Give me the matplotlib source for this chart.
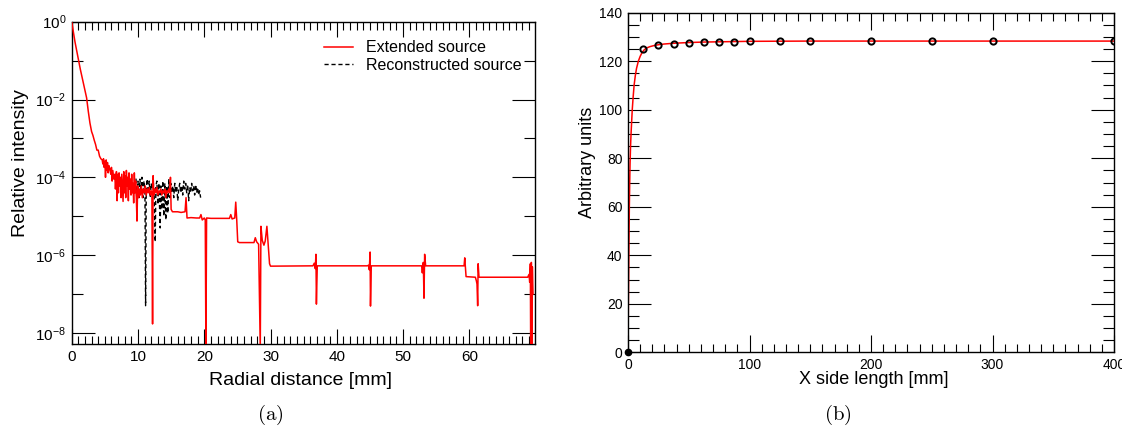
import matplotlib
matplotlib.use("Agg")
import matplotlib.pyplot as plt
from matplotlib.ticker import FixedLocator, FixedFormatter, MultipleLocator

plt.rcParams['font.family'] = ['Liberation Sans', 'DejaVu Sans']
plt.rcParams['mathtext.fontset'] = 'custom'
plt.rcParams['mathtext.rm'] = 'Liberation Sans'
plt.rcParams['mathtext.it'] = 'Liberation Sans:italic'
plt.rcParams['mathtext.bf'] = 'Liberation Sans:bold'

# ---------------- Panel (a) data ----------------
ext_x = [0.0, 0.25, 0.5, 0.75, 1.0, 1.3, 1.6, 1.9, 2.25, 2.5, 2.75, 3.0, 3.2, 3.4, 3.6, 3.8, 4.0,
         4.2, 4.4, 4.6, 4.7, 4.8, 4.9, 5.0, 5.1, 5.2, 5.3, 5.4, 5.5, 5.6, 5.75, 5.9, 6.0, 6.1,
         6.2, 6.35, 6.5, 6.6, 6.75, 6.85, 6.95, 7.05, 7.15, 7.25, 7.35, 7.45, 7.55, 7.65, 7.75,
         7.85, 7.95, 8.05, 8.15, 8.25, 8.35, 8.45, 8.55, 8.65, 8.75, 8.85, 8.95, 9.05, 9.15,
         9.25, 9.35, 9.45, 9.55, 9.65, 9.75, 9.85, 9.95, 10.1, 10.2, 10.35, 10.5, 10.65, 10.8,
         10.95, 11.1, 11.25, 11.4, 11.55, 11.7, 11.85, 12.0, 12.1, 12.2, 12.28, 12.4, 12.55,
         12.7, 12.85, 13.0, 13.15, 13.3, 13.45, 13.6, 13.75, 13.9, 14.05, 14.2, 14.35, 14.5,
         14.65, 14.8, 14.9, 15.0, 15.2, 16.0, 16.5, 17.1, 17.25, 17.4, 18.0, 18.8, 19.3, 19.5,
         19.7, 20.0, 20.15, 20.25, 20.35, 21.0, 22.5, 23.8, 24.0, 24.2, 24.6, 24.75, 24.9,
         25.05, 25.3, 26.5, 27.5, 27.7, 27.9, 28.2, 28.45, 28.55, 28.75, 29.0, 29.2, 29.45,
         29.65, 29.85, 30.0, 36.4, 36.6, 36.75, 36.85, 36.92, 37.05, 44.6, 44.8, 44.9, 45.02,
         45.08, 45.2, 52.8, 52.9, 53.05, 53.15, 53.25, 53.4, 59.2, 59.3, 59.5, 60.9, 61.05,
         61.15, 61.25, 61.32, 61.45, 68.8, 69.0, 69.1, 69.2, 69.25, 69.35, 69.42, 69.5, 69.6]
ext_y = [1.0, 0.55, 0.3, 0.18, 0.11, 0.06, 0.035, 0.02, 0.011, 0.005, 0.0025, 0.0015, 0.0012,
         9e-4, 7e-4, 5e-4, 5e-4, 3.5e-4, 3e-4, 2.8e-4, 2.2e-4, 3.0e-4, 1.8e-4, 2.6e-4, 1.0e-4,
         2.8e-4, 1.5e-4, 2.4e-4, 1.3e-4, 2.0e-4, 1.6e-4, 1.2e-4, 1.8e-4, 8e-5, 1.5e-4, 9e-5,
         1.2e-4, 5e-5, 1.4e-4, 2.5e-5, 1.2e-4, 4e-5, 1.3e-4, 6e-5, 1.0e-4, 3e-5, 1.2e-4, 5e-5,
         2.4e-5, 1.4e-4, 4e-5, 1.1e-4, 3e-5, 1.5e-4, 6e-5, 1.0e-4, 2.5e-5, 1.3e-4, 5e-5, 9e-5,
         3.5e-5, 1.2e-4, 4e-5, 7e-5, 2.2e-5, 1.3e-4, 4e-5, 8e-5, 3e-5, 7.5e-6, 6e-5, 3e-5, 5e-5,
         3.5e-5, 6e-5, 3e-5, 5e-5, 4e-5, 6e-5, 3.5e-5, 5e-5, 4e-5, 5.5e-5, 3.5e-5, 4.5e-5, 4e-5,
         1.7e-8, 1.1e-4, 3.5e-5, 5e-5, 4e-5, 5.5e-5, 3.5e-5, 4.5e-5, 4e-5, 5e-5, 3.5e-5, 4.5e-5,
         4e-5, 5e-5, 3e-5, 4.5e-5, 4e-5, 5e-5, 4e-5, 1.0e-4, 1.5e-5, 1.3e-5, 1.3e-5, 1.25e-5,
         1.3e-5, 3e-5, 9e-6, 9.2e-6, 9e-6, 9e-6, 1.1e-5, 8e-6, 9e-6, 8e-6, 4e-9, 9e-6, 8.8e-6,
         8.8e-6, 8.8e-6, 1.1e-5, 8.5e-6, 9e-6, 2.3e-5, 8e-6, 2.2e-6, 2.1e-6, 2.1e-6, 2.1e-6,
         2.8e-6, 2.2e-6, 1.9e-6, 4e-9, 5.5e-6, 2.4e-6, 1.8e-6, 2.3e-6, 5.5e-6, 1.8e-6, 6e-7,
         5.2e-7, 5.3e-7, 6.2e-7, 4.5e-7, 1.05e-6, 5.5e-8, 5.3e-7, 5.3e-7, 5.5e-7, 4.2e-7, 1.2e-6,
         4.9e-8, 5.3e-7, 5.3e-7, 3.5e-7, 6.5e-7, 7.8e-8, 1.05e-6, 5.3e-7, 5.3e-7, 8.5e-7, 2.8e-7,
         2.7e-7, 2.2e-7, 1.8e-7, 5e-8, 6e-7, 2.7e-7, 2.7e-7, 3.2e-7, 2e-7, 6e-7, 3e-9, 6.5e-7,
         4e-9, 5e-7, 1e-7]

rec_x = [9.5, 9.7, 9.85, 10.0, 10.15, 10.3, 10.45, 10.6, 10.75, 10.9, 11.05, 11.15, 11.25,
         11.4, 11.55, 11.7, 11.85, 12.0, 12.15, 12.3, 12.45, 12.6, 12.7, 12.85, 13.0, 13.15,
         13.35, 13.45, 13.6, 13.75, 13.9, 14.05, 14.2, 14.35, 14.5, 14.65, 14.8, 14.95, 15.1,
         15.25, 15.4, 15.55, 15.7, 15.85, 16.0, 16.15, 16.3, 16.45, 16.6, 16.75, 16.9, 17.05,
         17.2, 17.35, 17.5, 17.65, 17.8, 17.95, 18.1, 18.25, 18.4, 18.55, 18.7, 18.85, 19.0,
         19.15, 19.3, 19.45]
rec_y = [6e-5, 9e-5, 2e-5, 8e-5, 3e-5, 9e-5, 4e-5, 1.0e-4, 3e-5, 8e-5, 4e-5, 5e-8, 6e-5, 9e-5,
         4e-5, 8e-5, 3e-5, 7e-5, 5e-5, 8e-5, 3e-5, 2.2e-6, 6e-5, 8e-5, 2e-5, 7e-5, 5e-6, 6e-5,
         1.5e-5, 8e-5, 1e-5, 7e-5, 8e-6, 6e-5, 1.2e-5, 9e-5, 3e-5, 7e-5, 4e-5, 6e-5, 3e-5, 7e-5,
         4e-5, 6e-5, 2.5e-5, 5e-5, 7e-5, 4e-5, 6e-5, 3.5e-5, 8e-5, 5e-5, 7e-5, 4e-5, 6.5e-5,
         2.5e-5, 5.5e-5, 4e-5, 7e-5, 4.5e-5, 6e-5, 3.5e-5, 6.5e-5, 4e-5, 5.5e-5, 3.5e-5, 4.5e-5,
         3e-5]

a_ytick_vals = [1e0, 1e-2, 1e-4, 1e-6, 1e-8]
a_ytick_labels = [r'$10^{0}$', r'$10^{-2}$', r'$10^{-4}$', r'$10^{-6}$', r'$10^{-8}$']
a_yminor_vals = [1e-1, 1e-3, 1e-5, 1e-7]

# ---------------- Panel (b) data ----------------
pts_x = [0, 12.5, 25, 37.5, 50, 62.5, 75, 87.5, 100, 125, 150, 200, 250, 300, 400]
pts_y = [0, 125.0, 126.7, 127.3, 127.6, 127.8, 128.0, 128.1, 128.2, 128.3, 128.3, 128.3,
         128.3, 128.3, 128.3]
fit_x = [0, 0.15, 0.3, 0.5, 0.7, 0.9, 1.1, 1.4, 1.7, 2.1, 2.5, 3.0, 3.5, 4.2, 5.0, 6.0, 7.0,
         8.5, 10, 11.5, 13, 15, 18, 21, 25, 30, 37.5, 50, 62.5, 75, 100, 150, 200, 400]
fit_y = [0, 10, 20, 30, 40, 50, 60, 70, 78, 85, 90, 95, 100, 105, 110, 114, 117, 120, 122,
         123.5, 124.5, 125.4, 126.0, 126.4, 126.8, 127.1, 127.4, 127.7, 127.9, 128.0, 128.2,
         128.3, 128.3, 128.3]

# ---------------- Figure ----------------
fig = plt.figure(figsize=(11.22, 4.32), dpi=100)
W, H = 1122.0, 432.0

def add_axes_px(l, r, t, b):
    return fig.add_axes([l / W, 1 - b / H, (r - l) / W, (b - t) / H])

axa = add_axes_px(71.7, 535, 21.7, 344)
axb = add_axes_px(628, 1114, 12.7, 352.3)

for ax in (axa, axb):
    for s in ax.spines.values():
        s.set_linewidth(1.0)

# Panel a
axa.plot(ext_x, ext_y, color='#ff0000', lw=1.1, label='Extended source', zorder=3)
axa.plot(rec_x, rec_y, color='black', lw=1.0, ls=(0, (3.0, 2.0)), label='Reconstructed source', zorder=2)
axa.set_yscale('log')
axa.set_xlim(0, 69.9)
axa.set_ylim(10 ** -8.285, 1.0)
axa.yaxis.set_major_locator(FixedLocator(a_ytick_vals))
axa.yaxis.set_major_formatter(FixedFormatter(a_ytick_labels))
axa.yaxis.set_minor_locator(FixedLocator(a_yminor_vals))
axa.yaxis.set_minor_formatter(FixedFormatter([''] * len(a_yminor_vals)))
axa.xaxis.set_major_locator(MultipleLocator(10))
axa.xaxis.set_minor_locator(MultipleLocator(1))
axa.tick_params(axis='x', which='major', direction='in', length=11, width=0.8, top=True,
                labelsize=11, pad=4)
axa.tick_params(axis='x', which='minor', direction='in', length=5.5, width=0.8, top=True)
axa.tick_params(axis='y', which='major', direction='in', length=16.3, width=0.8, right=True,
                labelsize=11, pad=4)
axa.tick_params(axis='y', which='minor', direction='in', length=8, width=0.8, right=True)

axa.set_xlabel('Radial distance [mm]', fontsize=14, va='center')
axa.xaxis.set_label_coords(0.493, -0.112)
axa.set_ylabel('Relative intensity', fontsize=14, va='center')
axa.yaxis.set_label_coords(-0.11, 0.561)

axa.legend(loc='center left', bbox_to_anchor=(0.545, 0.8915), frameon=False, fontsize=11.5,
           handlelength=1.8, handletextpad=0.8, labelspacing=0.15, borderpad=0, borderaxespad=0)

# Panel b
axb.plot(fit_x, fit_y, color='#ff0000', lw=1.1, zorder=2)
axb.plot(pts_x[1:], pts_y[1:], ls='none', marker='o', ms=4.5, mfc='none', mec='black', mew=1.4, zorder=3)
axb.plot(pts_x[:1], pts_y[:1], ls='none', marker='o', ms=4.5, mfc='black', mec='black', zorder=3, clip_on=False)
axb.set_xlim(0, 400)
axb.set_ylim(0, 140)
axb.xaxis.set_major_locator(MultipleLocator(100))
axb.xaxis.set_minor_locator(MultipleLocator(10))
axb.yaxis.set_major_locator(MultipleLocator(20))
axb.yaxis.set_minor_locator(MultipleLocator(5))
axb.tick_params(axis='x', which='major', direction='in', length=12, width=0.8, top=True,
                labelsize=10, pad=4)
axb.tick_params(axis='x', which='minor', direction='in', length=6, width=0.8, top=True)
axb.tick_params(axis='y', which='major', direction='in', length=16.5, width=0.8, right=True,
                labelsize=10, pad=4)
axb.tick_params(axis='y', which='minor', direction='in', length=8, width=0.8, right=True)
axb.set_xlabel('X side length [mm]', fontsize=13, va='center')
axb.xaxis.set_label_coords(0.505, -0.081)
axb.set_ylabel('Arbitrary units', fontsize=13, va='center')
axb.yaxis.set_label_coords(-0.084, 0.560)

# Sub-captions
fig.text(270 / W, 1 - 415 / H, r'$\mathrm{(a)}$', math_fontfamily='cm', fontsize=15,
         ha='center', va='center')
fig.text(838 / W, 1 - 415 / H, r'$\mathrm{(b)}$', math_fontfamily='cm', fontsize=15,
         ha='center', va='center')

fig.savefig('out.png', dpi=100)
